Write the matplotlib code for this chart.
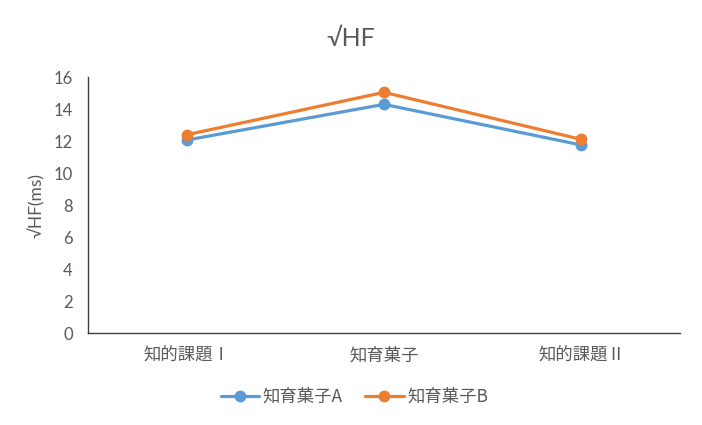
import matplotlib
matplotlib.use("Agg")
import matplotlib.pyplot as plt

plt.rcParams['font.family'] = ['Lato', 'Noto Sans CJK JP', 'DejaVu Sans']

categories = ["知的課題Ⅰ", "知育菓子", "知的課題Ⅱ"]
series_a = [12.06, 14.29, 11.75]
series_b = [12.39, 15.04, 12.10]
series_names = ["知育菓子A", "知育菓子B"]
yticks = [0, 2, 4, 6, 8, 10, 12, 14, 16]

text_color = "#595959"
cjk = ['Noto Sans CJK JP', 'DejaVu Sans']
fig = plt.figure(figsize=(7.02, 4.25), dpi=100)
ax = fig.add_axes([88/702, 1 - 333/425, (680-88)/702, (333-77)/425])

x = list(range(len(categories)))
ax.plot(x, series_a, color="#5B9BD5", lw=2.3, marker="o", ms=7.5, label=series_names[0],
        solid_capstyle="round")
ax.plot(x, series_b, color="#ED7D31", lw=2.3, marker="o", ms=7.5, label=series_names[1],
        solid_capstyle="round")

ax.set_xlim(-0.5, 2.5)
ax.set_ylim(0, 16)
ax.set_yticks(yticks)
ax.set_yticklabels([str(v) for v in yticks], fontsize=12)
ax.set_xticks(x)
ax.set_xticklabels(categories, family=cjk, fontsize=12.5)
ax.tick_params(axis='both', length=0, colors=text_color)
ax.tick_params(axis='y', pad=11)
ax.tick_params(axis='x', pad=10)
for s in ["top", "right"]:
    ax.spines[s].set_visible(False)
for s in ["left", "bottom"]:
    ax.spines[s].set_color("#404040")
    ax.spines[s].set_linewidth(1.0)

ax.set_ylabel("√HF(ms)", color=text_color, fontsize=12.5, labelpad=6)
fig.text(0.5, 1 - 38/425, "√HF", ha="center", va="center", fontsize=18, color=text_color)

leg = fig.legend(loc="center", bbox_to_anchor=(0.505, 1 - 397/425), ncol=2, frameon=False,
                 prop={'family': cjk, 'size': 12.5}, handlelength=2.2, columnspacing=1.3,
                 handletextpad=0.2)
for t in leg.get_texts():
    t.set_color(text_color)

fig.savefig("out.png", dpi=100)
